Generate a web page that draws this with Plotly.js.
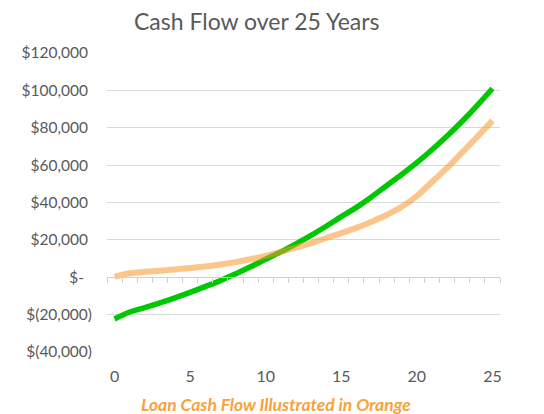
<!DOCTYPE html>
<html><head><meta charset="utf-8">
<script src="https://cdn.plot.ly/plotly-3.0.1.min.js"></script>
<style>html,body{margin:0;padding:0;background:#fff}#chart{width:544px;height:414px}</style>
</head><body><div id="chart"></div>
<script>
const years = [0,1,2,3,4,5,6,7,8,9,10,11,12,13,14,15,16,17,18,19,20,21,22,23,24,25];
const propertyCashFlow = [-22300,-18600,-16200,-13700,-11000,-8100,-5000,-1800,1800,5600,9600,13600,17900,22400,27300,32400,37400,43000,49000,55000,61300,68200,75600,83500,92000,101000];
const loanCashFlow = [300,2100,2900,3500,4200,4900,5700,6800,8100,9600,11400,13600,15900,18300,21000,23600,26400,29700,33300,37700,43500,51000,58500,66800,75200,83800];
const yTickValues = [120000,100000,80000,60000,40000,20000,0,-20000,-40000];
const yTickLabels = ["$120,000\u00a0","$100,000\u00a0","$80,000\u00a0","$60,000\u00a0","$40,000\u00a0","$20,000\u00a0","$-\u00a0\u00a0","$(20,000)","$(40,000)"];
const xTickValues = [0,5,10,15,20,25];
const titleText = "Cash Flow over 25 Years";
const noteText = "Loan Cash Flow Illustrated in Orange";

const FONT = "Lato, 'Open Sans', sans-serif";
const GREY = "#595959";

const traces = [
  {x: years, y: propertyCashFlow, type: "scatter", mode: "lines", xaxis: "x",
   line: {color: "#00C800", width: 5.5, shape: "spline", smoothing: 1}, hoverinfo: "skip"},
  {x: years, y: loanCashFlow, type: "scatter", mode: "lines", xaxis: "x2",
   line: {color: "rgba(250,150,40,0.55)", width: 6, shape: "spline", smoothing: 1}, hoverinfo: "skip"}
];

const layout = {
  width: 544, height: 414,
  margin: {l: 107, r: 44, t: 53, b: 62},
  paper_bgcolor: "#ffffff", plot_bgcolor: "#ffffff",
  showlegend: false,
  font: {family: FONT, color: GREY},
  title: {text: titleText, font: {family: FONT, size: 23, color: GREY},
          xref: "container", yref: "container", x: 0.472, y: 0.947, xanchor: "center", yanchor: "middle"},
  xaxis: {range: [-0.5, 25.5], tickvals: xTickValues, showgrid: false, zeroline: false, showline: false,
          ticks: "", ticklabelstandoff: 13, tickfont: {family: FONT, size: 16, color: GREY}, fixedrange: true},
  xaxis2: {overlaying: "x", anchor: "free", position: 0.25, range: [-0.5, 25.5], tick0: -0.5, dtick: 1,
           ticks: "outside", ticklen: 5, tickcolor: "#D0D0D0", tickwidth: 1, showline: true, linecolor: "#D0D0D0",
           linewidth: 1, showticklabels: false, showgrid: false, zeroline: false, fixedrange: true},
  yaxis: {range: [-40000, 120000], tickvals: yTickValues, ticktext: yTickLabels, showgrid: true,
          gridcolor: "#D9D9D9", gridwidth: 1, zeroline: false, showline: false, ticks: "",
          ticklabelstandoff: 14, tickfont: {family: FONT, size: 15.5, color: GREY}, fixedrange: true},
  annotations: [{text: "<b><i>" + noteText + "</i></b>", xref: "paper", yref: "paper",
                 x: 0.43, y: -0.174, xanchor: "center", yanchor: "middle", showarrow: false,
                 font: {family: FONT, size: 17.5, color: "#F7A23A"}}]
};

Plotly.newPlot("chart", traces, layout, {staticPlot: true, displayModeBar: false});
</script>
</body></html>
